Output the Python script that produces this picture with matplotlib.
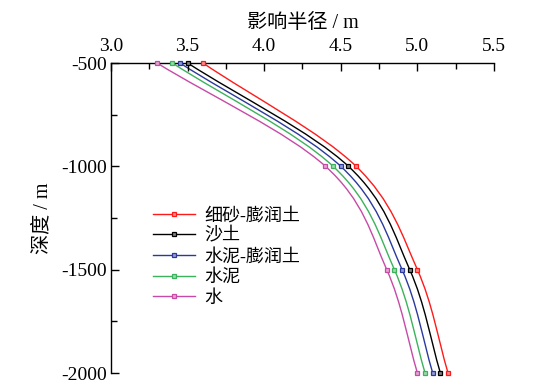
#!/usr/bin/env python3
"""Influence radius vs depth for different grout materials."""
import matplotlib
matplotlib.use('Agg')
import matplotlib.pyplot as plt
from matplotlib.path import Path
from matplotlib.patches import PathPatch
from matplotlib.lines import Line2D
from matplotlib.ticker import MultipleLocator
import matplotlib.colors as mcolors

plt.rcParams['font.family'] = ['Liberation Serif', 'Noto Sans CJK SC']
plt.rcParams['axes.unicode_minus'] = False

# data
depth = [-500, -1000, -1500, -2000]
r_sand_bent = [3.60, 4.60, 5.00, 5.20]
r_sand = [3.50, 4.55, 4.95, 5.15]
r_cement_bent = [3.45, 4.50, 4.90, 5.10]
r_cement = [3.40, 4.45, 4.85, 5.05]
r_water = [3.30, 4.40, 4.80, 5.00]

labels = ['细砂-膨润土', '沙土', '水泥-膨润土', '水泥', '水']
series = [r_sand_bent, r_sand, r_cement_bent, r_cement, r_water]
colors = ['#ff1a1a', '#000000', '#2a3a9c', '#3cb25c', '#c64aa6']


def smooth_path(xs, ys):
    # cubic Bezier segments through the points (spline-style connection)
    n = len(xs)
    tx, ty = [], []
    for i in range(n):
        a = max(i - 1, 0)
        b = min(i + 1, n - 1)
        tx.append((xs[b] - xs[a]) / (b - a))
        ty.append((ys[b] - ys[a]) / (b - a))
    verts = [(xs[0], ys[0])]
    codes = [Path.MOVETO]
    for i in range(n - 1):
        verts += [(xs[i] + tx[i] / 3, ys[i] + ty[i] / 3),
                  (xs[i + 1] - tx[i + 1] / 3, ys[i + 1] - ty[i + 1] / 3),
                  (xs[i + 1], ys[i + 1])]
        codes += [Path.CURVE4] * 3
    return Path(verts, codes)


fig = plt.figure(figsize=(5.46, 3.86), dpi=100)
ax = fig.add_axes([111 / 546, 1 - 373 / 386, 383 / 546, 310 / 386])

handles = []
for vals, lab, c in zip(series, labels, colors):
    light = tuple(0.5 + 0.5 * v for v in mcolors.to_rgb(c))
    ax.add_patch(PathPatch(smooth_path(vals, depth), fill=False, edgecolor=c,
                           lw=1.0, clip_on=False))
    ax.plot(vals, depth, ls='none', marker='s', ms=3, mec=c, mfc=light,
            mew=0.9, clip_on=False, zorder=3)
    handles.append(Line2D([], [], color=c, lw=1.0, marker='s', ms=3,
                          mec=c, mfc=light, mew=0.9, label=lab))

ax.set_xlim(3.0, 5.5)
ax.set_ylim(-2000, -500)
ax.xaxis.set_major_locator(MultipleLocator(0.5))
ax.xaxis.set_minor_locator(MultipleLocator(0.25))
ax.yaxis.set_major_locator(MultipleLocator(500))
ax.yaxis.set_minor_locator(MultipleLocator(250))
ax.xaxis.set_major_formatter(matplotlib.ticker.FormatStrFormatter('%.1f'))

ax.xaxis.tick_top()
ax.xaxis.set_label_position('top')
ax.spines['right'].set_visible(False)
ax.spines['bottom'].set_visible(False)
for s in ('top', 'left'):
    ax.spines[s].set_linewidth(1.0)
ax.tick_params(which='major', direction='in', length=6, width=1.0,
               labelsize=14, pad=3)
ax.tick_params(axis='x', which='major', pad=6)
ax.tick_params(which='minor', direction='in', length=4, width=1.0)
ax.tick_params(axis='x', which='both', top=True, bottom=False)
ax.tick_params(axis='y', which='both', left=True, right=False)

ax.set_xlabel('影响半径 / m', fontsize=14.5, labelpad=7)
ax.set_ylabel('深度 / m', fontsize=14.5, labelpad=6)

ax.legend(handles=handles, loc='upper left', bbox_to_anchor=(0.11, 0.535),
          frameon=False, fontsize=13, handlelength=2.3, handletextpad=0.55,
          labelspacing=0.2, borderpad=0, borderaxespad=0)

fig.savefig('out.png', dpi=100, facecolor='white')
